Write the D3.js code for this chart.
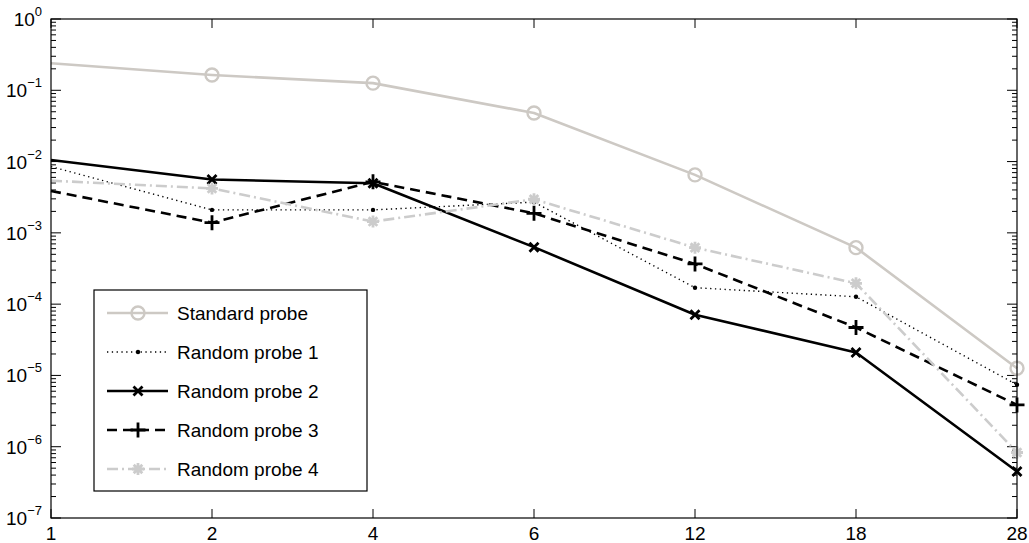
<!DOCTYPE html>
<html>
<head>
<meta charset="utf-8">
<script src="https://cdn.jsdelivr.net/npm/d3@7"></script>
<style>
  html, body { margin: 0; padding: 0; background: #fff; }
  svg { display: block; font-family: "Liberation Sans", Arial, Helvetica, sans-serif; }
</style>
</head>
<body>
<svg id="chart" width="1029" height="543"></svg>
<script>
// Categories on the horizontal axis (evenly spaced)
const categories = ["1", "2", "4", "6", "12", "18", "28"];

// Error values per probe
const standardProbe = [0.239, 0.164, 0.126, 0.048, 0.0065, 6.2e-4, 1.26e-5];
const randomProbe1  = [8.5e-3, 2.1e-3, 2.1e-3, 2.7e-3, 1.7e-4, 1.27e-4, 7.4e-6];
const randomProbe2  = [0.0105, 5.6e-3, 4.96e-3, 6.3e-4, 7.1e-5, 2.1e-5, 4.5e-7];
const randomProbe3  = [3.87e-3, 1.39e-3, 5.2e-3, 1.88e-3, 3.66e-4, 4.7e-5, 3.86e-6];
const randomProbe4  = [5.4e-3, 4.2e-3, 1.44e-3, 2.96e-3, 6.2e-4, 1.96e-4, 8.3e-7];

// Decade exponents for the log axis labels
const yExponents = [0, -1, -2, -3, -4, -5, -6, -7];

const seriesNames = ["Standard probe", "Random probe 1", "Random probe 2", "Random probe 3", "Random probe 4"];
const seriesValues = [standardProbe, randomProbe1, randomProbe2, randomProbe3, randomProbe4];

const styles = [
  { color: "#cdc9c4", width: 2.6, dash: null,             marker: "circle" },
  { color: "#000000", width: 1.4, dash: "1.3,3.5",        marker: "dot" },
  { color: "#000000", width: 2.6, dash: null,             marker: "x" },
  { color: "#000000", width: 2.6, dash: "10,6",           marker: "plus" },
  { color: "#cccccc", width: 2.6, dash: "11,4,2,4",       marker: "star" }
];

const svg = d3.select("#chart");
const plotLeft = 51, plotRight = 1017, plotTop = 19, plotBottom = 518;

const x = d3.scalePoint().domain(categories).range([plotLeft, plotRight]).padding(0);
const y = d3.scaleLog().domain([1e-7, 1]).range([plotBottom, plotTop]);

// Axis ticks (inward, mirrored on all four sides)
const tickG = svg.append("g").attr("stroke", "#000").attr("stroke-width", 1);
categories.forEach(c => {
  const xx = x(c);
  tickG.append("line").attr("x1", xx).attr("x2", xx).attr("y1", plotBottom).attr("y2", plotBottom - 9);
  tickG.append("line").attr("x1", xx).attr("x2", xx).attr("y1", plotTop).attr("y2", plotTop + 9);
});
const majorTicks = yExponents.map(e => Math.pow(10, e));
const minorTicks = [];
for (let e = -7; e < 0; e++) {
  for (let m = 2; m <= 9; m++) minorTicks.push(m * Math.pow(10, e));
}
majorTicks.forEach(v => {
  const yy = y(v);
  tickG.append("line").attr("x1", plotLeft).attr("x2", plotLeft + 10).attr("y1", yy).attr("y2", yy);
  tickG.append("line").attr("x1", plotRight).attr("x2", plotRight - 10).attr("y1", yy).attr("y2", yy);
});
minorTicks.forEach(v => {
  const yy = y(v);
  tickG.append("line").attr("x1", plotLeft).attr("x2", plotLeft + 5).attr("y1", yy).attr("y2", yy);
  tickG.append("line").attr("x1", plotRight).attr("x2", plotRight - 5).attr("y1", yy).attr("y2", yy);
});

// Lines and markers
const line = d3.line().x((d, i) => x(categories[i])).y(d => y(d));

function drawMarker(g, type, cx, cy, color) {
  if (type === "circle") {
    g.append("circle").attr("cx", cx).attr("cy", cy).attr("r", 6.5)
      .attr("fill", "none").attr("stroke", color).attr("stroke-width", 2.4);
  } else if (type === "dot") {
    g.append("circle").attr("cx", cx).attr("cy", cy).attr("r", 2.2).attr("fill", color);
  } else if (type === "x") {
    const s = 4.5;
    g.append("path").attr("d", `M${cx - s},${cy - s}L${cx + s},${cy + s}M${cx - s},${cy + s}L${cx + s},${cy - s}`)
      .attr("stroke", color).attr("stroke-width", 2.8).attr("fill", "none");
  } else if (type === "plus") {
    const s = 7.5;
    g.append("path").attr("d", `M${cx - s},${cy}L${cx + s},${cy}M${cx},${cy - s}L${cx},${cy + s}`)
      .attr("stroke", color).attr("stroke-width", 2.8).attr("fill", "none");
  } else if (type === "star") {
    const s = 6, d = 4.3;
    g.append("path").attr("d",
      `M${cx - s},${cy}L${cx + s},${cy}M${cx},${cy - s}L${cx},${cy + s}` +
      `M${cx - d},${cy - d}L${cx + d},${cy + d}M${cx - d},${cy + d}L${cx + d},${cy - d}`)
      .attr("stroke", color).attr("stroke-width", 2.8).attr("fill", "none");
  }
}

// Series lines; markers are shown from the second category onward
const plotG = svg.append("g");
seriesValues.forEach((vals, k) => {
  const st = styles[k];
  plotG.append("path").datum(vals).attr("d", line)
    .attr("fill", "none").attr("stroke", st.color).attr("stroke-width", st.width)
    .attr("stroke-dasharray", st.dash).attr("stroke-linejoin", "round");
  vals.forEach((v, i) => {
    if (i > 0) drawMarker(plotG, st.marker, x(categories[i]), y(v), st.color);
  });
});

// Frame
svg.append("rect").attr("x", plotLeft).attr("y", plotTop)
  .attr("width", plotRight - plotLeft).attr("height", plotBottom - plotTop)
  .attr("fill", "none").attr("stroke", "#000").attr("stroke-width", 1.2);

// Tick labels
const labelG = svg.append("g").attr("fill", "#000");
categories.forEach(c => {
  labelG.append("text").attr("x", x(c)).attr("y", 540).attr("text-anchor", "middle")
    .attr("font-size", 19).text(c);
});
yExponents.forEach(e => {
  const yy = y(Math.pow(10, e));
  const t = labelG.append("text").attr("x", 42).attr("y", yy + 7).attr("text-anchor", "end").attr("font-size", 19);
  t.append("tspan").text("10");
  t.append("tspan").attr("dy", -10).attr("font-size", 13).text(e === 0 ? "0" : "\u2212" + Math.abs(e));
});

// Legend
const lg = svg.append("g");
lg.append("rect").attr("x", 94).attr("y", 290).attr("width", 273).attr("height", 201)
  .attr("fill", "#fff").attr("stroke", "#000").attr("stroke-width", 1.2);
seriesNames.forEach((name, k) => {
  const st = styles[k];
  const yy = 313 + k * 39;
  lg.append("line").attr("x1", 107).attr("x2", 168).attr("y1", yy).attr("y2", yy)
    .attr("stroke", st.color).attr("stroke-width", st.width).attr("stroke-dasharray", st.dash);
  drawMarker(lg, st.marker, 138, yy, st.color);
  lg.append("text").attr("x", 177).attr("y", yy + 7).attr("font-size", 19).text(name);
});
</script>
</body>
</html>
